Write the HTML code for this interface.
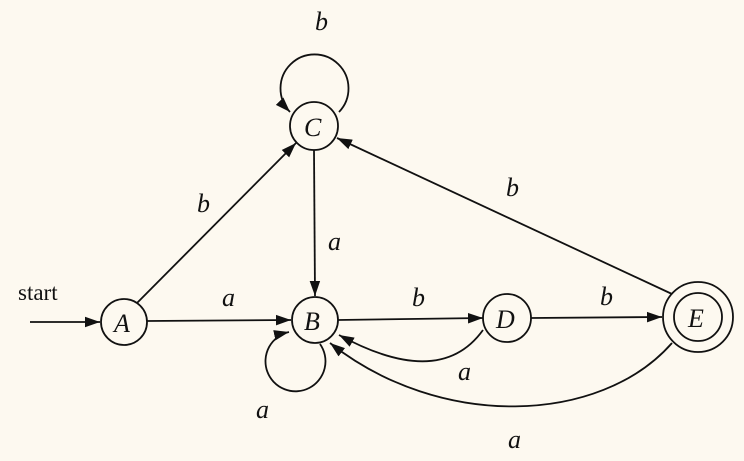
<!DOCTYPE html><html><head><style>body{margin:0;background:#fdf9f0}svg{display:block}text{font-family:"Liberation Serif",serif;font-style:italic;font-size:26px;fill:#111}</style></head><body>
<svg width="744" height="461" viewBox="0 0 744 461">
<defs><marker id="m" viewBox="0 0 10 10" refX="10" refY="5" markerWidth="15" markerHeight="15" markerUnits="userSpaceOnUse" orient="auto"><path d="M0,1.5L10,5L0,8.5z" fill="#111"/></marker></defs>
<rect width="744" height="461" fill="#fdf9f0"/>
<g stroke="#111" stroke-width="1.8" fill="none">
<circle cx="124" cy="322" r="23"/>
<circle cx="315" cy="320" r="23"/>
<circle cx="314" cy="126" r="24"/>
<circle cx="507" cy="318" r="24"/>
<circle cx="698" cy="317" r="35"/>
<circle cx="698" cy="317" r="24"/>
<line x1="30" y1="322" x2="100" y2="322" marker-end="url(#m)"/>
<line x1="147" y1="321" x2="291" y2="320" marker-end="url(#m)"/>
<line x1="137" y1="303" x2="296" y2="143" marker-end="url(#m)"/>
<line x1="314" y1="150" x2="315" y2="296" marker-end="url(#m)"/>
<line x1="338" y1="320" x2="483" y2="318" marker-end="url(#m)"/>
<line x1="531" y1="318" x2="662" y2="317" marker-end="url(#m)"/>
<line x1="672" y1="294" x2="337" y2="138" marker-end="url(#m)"/>
<path d="M339,112 A34,34 0 1 0 290,112" marker-end="url(#m)"/>
<path d="M320,344 A30,30 0 1 1 289,332" marker-end="url(#m)"/>
<path d="M483,330 Q440,390 339,335" marker-end="url(#m)"/>
<path d="M672,343 C600,425 440,430 330,343" marker-end="url(#m)"/>
</g>
<text x="18" y="300" style="font-style:normal;font-size:23px">start</text>
<text x="114" y="332">A</text><text x="304" y="330">B</text><text x="304" y="136">C</text><text x="496" y="328">D</text><text x="688" y="327">E</text>
<text x="315" y="30">b</text><text x="197" y="212">b</text><text x="328" y="250">a</text><text x="222" y="306">a</text>
<text x="412" y="306">b</text><text x="600" y="305">b</text><text x="506" y="196">b</text>
<text x="256" y="418">a</text><text x="458" y="380">a</text><text x="508" y="448">a</text>
</svg></body></html>
